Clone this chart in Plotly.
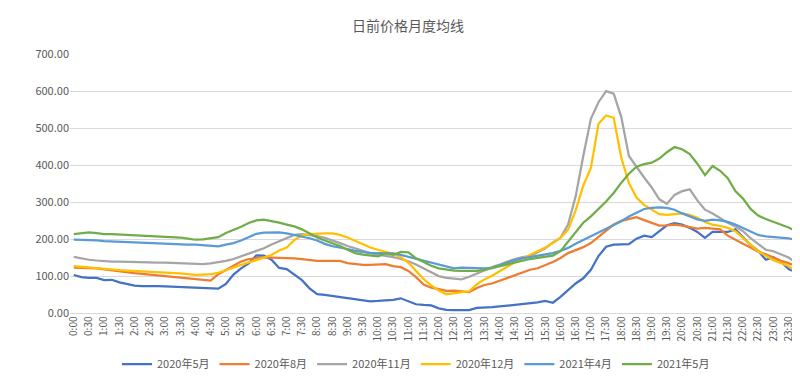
import plotly.graph_objects as go

# time labels (15-minute points, 0:00 .. 23:45)
times = [f"{h}:{m:02d}" for h in range(24) for m in (0, 15, 30, 45)]

may_2020 = [104, 98, 96, 96, 90, 91, 84, 79, 75, 74, 75, 74, 73, 72, 71, 70, 69, 69, 68, 67,
            80, 105, 122, 135, 157, 156, 145, 123, 120, 104, 90, 68, 52, 50, 47, 44, 41, 38, 36, 33,
            34, 35, 37, 41, 34, 25, 23, 22, 14, 10, 9, 9, 9, 15, 15, 17, 19, 21, 24, 25,
            27, 30, 34, 29, 45, 62, 81, 95, 118, 155, 180, 186, 187, 187, 202, 210, 206, 222, 238, 244,
            240, 231, 220, 204, 220, 220, 220, 227, 205, 185, 169, 145, 152, 140, 120, 111]

aug_2020 = [124, 124, 124, 122, 119, 116, 113, 111, 109, 107, 105, 102, 100, 97, 95, 94, 93, 91, 89, 106,
            118, 130, 140, 147, 150, 151, 151, 151, 151, 149, 147, 144, 142, 142, 142, 142, 136, 133, 131, 131,
            132, 133, 128, 125, 115, 98, 78, 70, 66, 61, 62, 60, 58, 69, 77, 81, 88, 96, 102, 110,
            118, 122, 130, 139, 150, 163, 171, 179, 190, 206, 222, 240, 250, 255, 260, 252, 245, 237, 238, 240,
            237, 232, 229, 231, 228, 227, 210, 198, 188, 178, 167, 160, 150, 142, 136, 127]

nov_2020 = [153, 148, 145, 143, 141, 140, 140, 139, 138, 138, 138, 137, 137, 136, 135, 134, 132, 133, 135, 138,
            142, 147, 154, 160, 168, 176, 186, 194, 203, 212, 214, 212, 209, 204, 198, 190, 182, 175, 168, 163,
            159, 156, 152, 147, 141, 132, 121, 111, 101, 96, 93, 92, 99, 108, 116, 125, 132, 140, 147, 152,
            155, 165, 176, 192, 204, 240, 316, 425, 525, 570, 600, 593, 530, 425, 395, 367, 340, 308, 296, 320,
            330, 335, 305, 280, 270, 257, 245, 235, 222, 203, 188, 172, 168, 160, 151, 137]

dec_2020 = [128, 126, 123, 121, 120, 118, 117, 116, 115, 114, 113, 112, 111, 110, 108, 106, 104, 105, 106, 110,
            117, 126, 132, 138, 144, 150, 158, 170, 178, 198, 211, 214, 216, 216, 216, 212, 205, 196, 185, 178,
            172, 167, 161, 152, 137, 115, 93, 76, 62, 52, 54, 57, 60, 79, 92, 102, 113, 126, 138, 148,
            157, 166, 178, 190, 204, 226, 278, 345, 393, 512, 534, 528, 420, 352, 313, 293, 280, 268, 266, 267,
            270, 266, 258, 247, 240, 236, 231, 222, 205, 186, 168, 155, 144, 136, 128, 113]

apr_2021 = [199, 199, 198, 197, 195, 194, 193, 193, 192, 191, 190, 189, 188, 188, 187, 186, 186, 185, 183, 181,
            186, 190, 197, 207, 215, 218, 219, 219, 216, 212, 208, 203, 197, 188, 182, 179, 174, 169, 165, 163,
            163, 163, 162, 158, 153, 148, 143, 137, 132, 126, 122, 124, 123, 122, 122, 123, 130, 138, 144, 149,
            152, 155, 158, 163, 169, 177, 188, 198, 208, 218, 228, 238, 249, 262, 273, 282, 285, 286, 285, 280,
            270, 261, 254, 250, 253, 251, 247, 240, 230, 220, 212, 208, 206, 205, 203, 198]

may_2021 = [214, 216, 219, 217, 214, 214, 213, 212, 210, 209, 208, 207, 206, 205, 205, 202, 199, 200, 204, 206,
            217, 225, 234, 244, 251, 253, 250, 245, 240, 235, 227, 216, 205, 197, 190, 182, 172, 163, 159, 156,
            154, 162, 158, 166, 165, 149, 138, 129, 122, 118, 116, 115, 114, 115, 118, 123, 127, 132, 138, 143,
            147, 150, 152, 156, 168, 193, 221, 245, 262, 281, 302, 325, 353, 377, 396, 403, 407, 418, 435, 449,
            443, 430, 404, 373, 398, 385, 365, 330, 310, 282, 264, 255, 248, 240, 232, 222]

series_names = ["2020年5月", "2020年8月", "2020年11月", "2020年12月", "2021年4月", "2021年5月"]
series_values = [may_2020, aug_2020, nov_2020, dec_2020, apr_2021, may_2021]
colors = ["#4472C4", "#ED7D31", "#A5A5A5", "#FFC000", "#5B9BD5", "#70AD47"]

y_ticks = [0, 100, 200, 300, 400, 500, 600, 700]

fig = go.Figure()
idx = list(range(len(times)))
for name, vals, col in zip(series_names, series_values, colors):
    fig.add_trace(go.Scatter(x=idx, y=vals, mode="lines", name=name,
                             line=dict(color=col, width=2.25)))

font_fam = "Noto Sans CJK SC, Liberation Sans, sans-serif"
fig.update_layout(
    width=800, height=382,
    margin=dict(l=62, r=8, t=46, b=74),
    paper_bgcolor="white", plot_bgcolor="white",
    font=dict(family=font_fam, size=11, color="#595959"),
    title=dict(text="日前价格月度均线", x=0.5, xref="container", xanchor="center",
               y=1 - 18 / 382, yref="container", yanchor="middle",
               font=dict(size=14, color="#595959")),
    legend=dict(orientation="h", x=0.51, xref="container", xanchor="center",
                y=26 / 382, yref="container", yanchor="middle",
                font=dict(size=11, color="#595959"), itemwidth=30,
                tracegroupgap=0),
    showlegend=True,
)
fig.update_xaxes(
    range=[-0.5, 95.5],
    tickmode="array",
    tickvals=idx[::2],
    ticktext=times[::2],
    tickangle=-90,
    tickfont=dict(size=10, color="#595959"),
    showgrid=False, zeroline=False,
    showline=False,
    ticks="",
)
fig.update_yaxes(
    range=[0, 700],
    tickmode="array",
    tickvals=y_ticks,
    ticktext=[f"{v:.2f}" for v in y_ticks],
    tickfont=dict(size=11, color="#595959"),
    showgrid=True, gridcolor="#D9D9D9", gridwidth=1,
    zeroline=True, zerolinecolor="#D9D9D9", zerolinewidth=1,
    showline=False,
)

fig.write_html("out.html")
